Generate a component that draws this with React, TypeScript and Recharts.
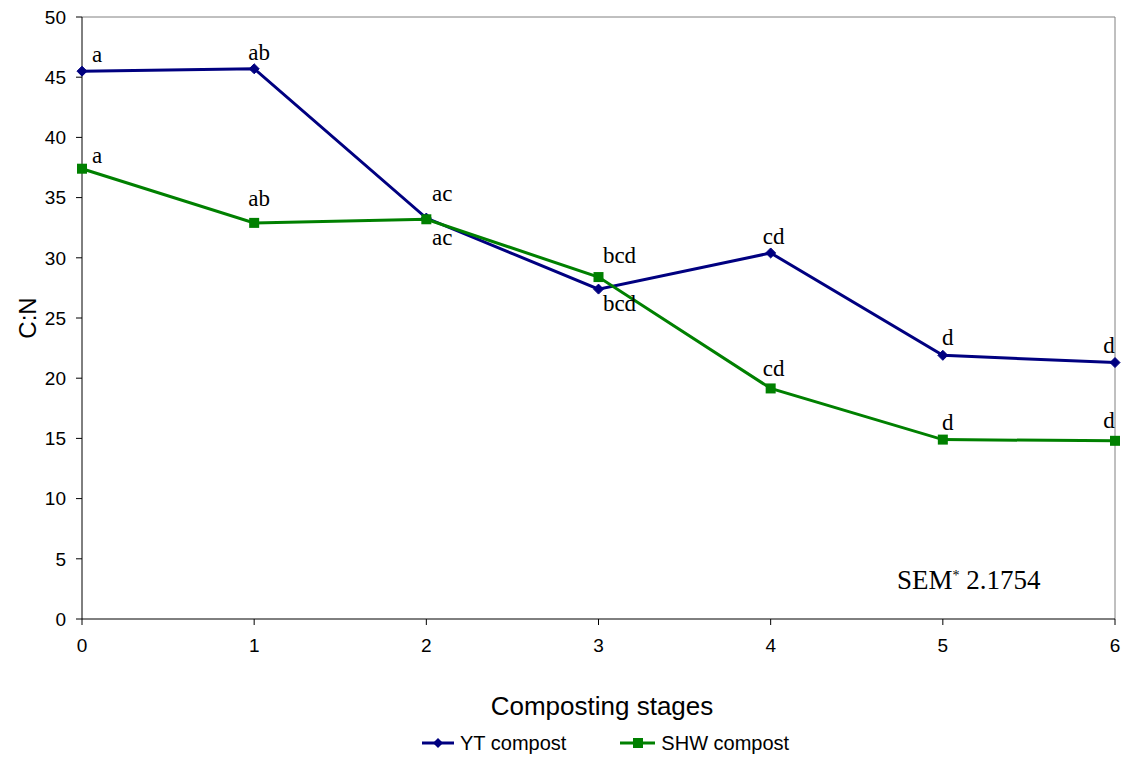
import { LineChart, Line, XAxis, YAxis, Legend, ReferenceLine, LabelList } from "recharts";

const stages = [0, 1, 2, 3, 4, 5, 6];
const ytValues = [45.5, 45.7, 33.3, 27.4, 30.4, 21.9, 21.3];
const shwValues = [37.4, 32.9, 33.2, 28.4, 19.15, 14.9, 14.8];
const ytLetters = ["a", "ab", "ac", "bcd", "cd", "d", "d"];
const shwLetters = ["a", "ab", "ac", "bcd", "cd", "d", "d"];
const yTicks = [0, 5, 10, 15, 20, 25, 30, 35, 40, 45, 50];

// label nudges (px), per stage
const labelDx = [15, 5, 16, 21, 3, 5, -6];
const ytDy = [-17, -16, 19, 14, -16, -18, -17];
const shwDy = [-13, -24, -26, -22, -20, -17, -20];

const NAVY = "#000080";
const GREEN = "#008000";
const SANS = "'Liberation Sans', Arial, sans-serif";
const SERIF = "'Liberation Serif', 'Times New Roman', serif";

const rows = stages.map((s, i) => ({
  stage: s,
  yt: ytValues[i],
  shw: shwValues[i],
  ytLetter: ytLetters[i],
  shwLetter: shwLetters[i],
}));

const diamond = (props: any) => {
  const { cx, cy, index } = props;
  const r = 5;
  return (
    <polygon key={`yt-${index}`} points={`${cx},${cy - r} ${cx + r},${cy} ${cx},${cy + r} ${cx - r},${cy}`} fill={NAVY} stroke={NAVY} />
  );
};

const square = (props: any) => {
  const { cx, cy, index } = props;
  return <rect key={`shw-${index}`} x={cx - 5} y={cy - 5} width={10} height={10} fill={GREEN} />;
};

const letterLabel = (dy: number[]) => (props: any) => {
  const { x, y, value, index } = props;
  return (
    <text x={x + labelDx[index]} y={y + dy[index]} textAnchor="middle" dominantBaseline="central"
      fontFamily={SERIF} fontSize={23} fill="#000">{value}</text>
  );
};

const renderLegend = () => (
  <div style={{ display: "flex", alignItems: "center", height: 28, paddingLeft: 422, fontFamily: SANS, fontSize: 20, color: "#000" }}>
    <svg width={32} height={12}>
      <line x1={0} y1={6} x2={32} y2={6} stroke={NAVY} strokeWidth={3} />
      <polygon points="16,1 21,6 16,11 11,6" fill={NAVY} />
    </svg>
    <span style={{ marginLeft: 6 }}>YT compost</span>
    <svg width={35} height={12} style={{ marginLeft: 54 }}>
      <line x1={0} y1={6} x2={35} y2={6} stroke={GREEN} strokeWidth={3} />
      <rect x={13} y={1} width={10} height={10} fill={GREEN} />
    </svg>
    <span style={{ marginLeft: 6 }}>SHW compost</span>
  </div>
);

export default function App() {
  return (
    <div style={{ position: "absolute", left: 0, top: 0, width: 1125, height: 757, background: "#fff" }}>
      <LineChart width={1125} height={757} data={rows} margin={{ top: 17, right: 10, bottom: 0, left: 22 }}>
        <XAxis dataKey="stage" type="number" domain={[0, 6]} ticks={stages} interval={0}
          height={110} tickSize={6} tickMargin={14}
          tick={{ fontFamily: SANS, fontSize: 19, fill: "#000" }}
          axisLine={{ stroke: "#000" }} tickLine={{ stroke: "#000" }}
          label={{ content: () => (
            <text x={602} y={706} textAnchor="middle" dominantBaseline="central" fontFamily={SANS} fontSize={26} fill="#000">Composting stages</text>
          ) }} />
        <YAxis type="number" domain={[0, 50]} ticks={yTicks} interval={0} width={60}
          tickSize={6} tickMargin={10}
          tick={{ fontFamily: SANS, fontSize: 19, fill: "#000" }}
          axisLine={{ stroke: "#000" }} tickLine={{ stroke: "#000" }}
          label={{ content: () => (
            <text x={27} y={318} transform="rotate(-90, 27, 318)" textAnchor="middle" dominantBaseline="central" fontFamily={SANS} fontSize={24} fill="#000">C:N</text>
          ) }} />
        <ReferenceLine y={50} stroke="#808080" strokeWidth={1} />
        <ReferenceLine x={6} stroke="#808080" strokeWidth={1} />
        <Legend verticalAlign="bottom" content={renderLegend} wrapperStyle={{ left: 0, width: 1125 }} />
        <Line dataKey="yt" name="YT compost" stroke={NAVY} strokeWidth={3} dot={diamond} activeDot={false} isAnimationActive={false}>
          <LabelList dataKey="ytLetter" content={letterLabel(ytDy)} />
        </Line>
        <Line dataKey="shw" name="SHW compost" stroke={GREEN} strokeWidth={3} dot={square} activeDot={false} isAnimationActive={false}>
          <LabelList dataKey="shwLetter" content={letterLabel(shwDy)} />
        </Line>
      </LineChart>
      <div style={{ position: "absolute", left: 897, top: 564, fontFamily: SERIF, fontSize: 27, color: "#000", lineHeight: "32px", whiteSpace: "nowrap" }}>
        SEM<sup style={{ fontSize: 14, verticalAlign: "top", position: "relative", top: -4 }}>*</sup> 2.1754
      </div>
    </div>
  );
}
